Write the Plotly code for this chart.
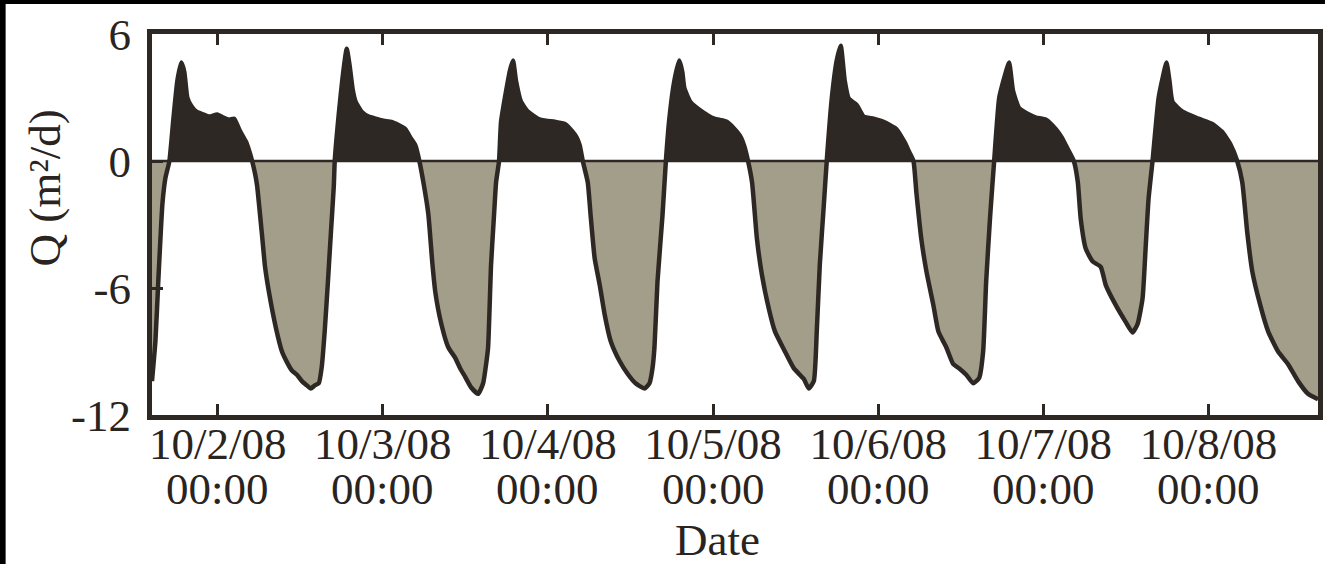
import pandas as pd
import plotly.graph_objects as go

# Hours since 2008-10-02 00:00 and flux Q (m2/d)
hours = [
    -9.55, -9.05, -8.61, -8.03, -7.60, -7.02, -6.44, -5.86, -5.28, -4.85, -4.42, -3.84, -3.11, -2.10,
    -1.23, -0.07, 0.80, 1.66, 2.39, 3.11, 3.69, 4.13, 4.56, 5.00,
    5.43, 5.72, 6.44, 6.88, 7.45, 8.47, 9.34, 10.06, 10.78, 11.51, 12.23, 12.96, 13.53, 14.11,
    14.69, 15.13, 15.56, 16.00, 16.43, 16.87, 17.01,
    17.59, 18.17, 18.75, 19.18, 19.61, 20.05, 20.92, 21.93, 22.94, 24.10, 25.26, 26.27, 27.29,
    28.01, 28.73, 29.31,
    29.89, 30.61, 31.19, 31.63, 32.50, 33.51, 34.52, 35.25, 35.97, 36.84, 37.85, 38.58, 39.01,
    39.30, 39.73, 40.17, 40.46, 40.89,
    41.18, 41.91, 42.49, 42.92, 43.35, 44.08, 45.09, 46.54, 47.70, 49.00, 50.45, 51.61, 52.19,
    52.62, 53.06,
    53.78, 54.21, 54.79, 55.52, 56.24, 57.11, 58.41, 59.57, 60.73, 62.04, 62.76, 63.19, 63.48,
    63.92, 64.64, 65.14,
    65.64, 66.37, 67.09, 67.53, 67.82, 68.69, 70.13, 72.16, 74.04, 75.49, 76.07, 76.50, 77.08,
    77.66, 78.38, 79.11, 80.12, 80.99, 82.44, 83.74, 85.19, 85.91, 86.64, 87.07, 87.51, 88.09,
    88.52,
    89.25, 89.97, 90.55, 91.13, 91.71, 92.87, 93.88, 95.33, 96.77, 98.66, 99.81, 100.54, 101.12,
    101.55, 102.27, 103.00, 104.01, 104.74, 105.89, 106.91, 107.78, 108.79, 109.81, 110.67,
    111.25, 111.69, 112.27, 112.85,
    113.57, 114.29, 115.02, 115.60, 116.47, 117.92, 118.93, 120.38, 121.82, 122.69, 123.27,
    124.43,
    125.01, 125.44, 126.17, 127.18, 128.34, 129.06, 130.51, 131.96, 132.97, 133.70, 134.42,
    134.86, 135.29, 135.87,
    136.74, 137.32, 137.90, 138.33, 138.77, 140.22, 142.53, 144.56, 146.01, 146.59, 147.17,
    148.18,
    148.91, 149.63, 150.36, 151.52, 152.67, 154.12, 155.57, 157.02, 158.47, 159.92,
]
q = [
    -10.4, -8.5, -5.5, -2.0, -0.8, 0.0, 2.0, 3.8, 4.65, 4.2, 3.0, 2.6, 2.33, 2.2,
    2.1, 2.2, 2.05, 1.95, 2.0, 1.5, 1.15, 0.9, 0.5, 0.0,
    -0.6, -1.15, -3.5, -5.0, -6.2, -7.9, -9.0, -9.5, -9.9, -10.1, -10.4, -10.6, -10.75, -10.6,
    -10.5, -9.7, -8.0, -5.8, -3.5, -1.2, 0.0,
    2.2, 4.0, 5.3, 4.5, 3.4, 2.8, 2.33, 2.1, 2.0, 1.9, 1.85, 1.7, 1.5,
    1.1, 0.74, 0.0,
    -1.0, -2.5, -4.8, -6.2, -7.7, -8.8, -9.3, -9.8, -10.2, -10.7, -11.0, -10.5, -9.6,
    -8.8, -4.9, -2.5, -1.0, 0.0,
    1.85, 3.3, 4.3, 4.75, 3.8, 2.8, 2.33, 2.0, 1.9, 1.85, 1.75, 1.37, 1.1,
    0.74, 0.0,
    -1.0, -2.6, -4.6, -5.85, -7.25, -8.5, -9.45, -10.05, -10.5, -10.75, -10.5, -9.8, -8.8,
    -5.7, -2.6, 0.0,
    2.0, 3.8, 4.75, 4.2, 3.45, 2.8, 2.4, 2.0, 1.85, 1.37, 1.1, 0.74, 0.0,
    -1.0, -3.7, -5.4, -7.0, -8.05, -9.0, -9.8, -10.3, -10.75, -10.4, -8.05, -4.9, -2.1,
    0.0,
    2.95, 4.75, 5.45, 3.8, 2.95, 2.65, 2.1, 2.0, 1.85, 1.5, 0.9, 0.4, 0.0,
    -1.5, -3.7, -5.2, -6.8, -8.05, -8.8, -9.6, -9.8, -10.1, -10.5, -10.25,
    -9.0, -5.7, -2.6, 0.0,
    2.95, 3.9, 4.65, 3.3, 2.5, 2.2, 2.05, 1.95, 1.5, 1.1, 0.74,
    0.0,
    -1.0, -2.75, -4.15, -4.75, -5.0, -5.85, -6.8, -7.6, -8.1, -7.7, -6.5,
    -4.15, -1.8, 0.0,
    2.95, 3.9, 4.65, 3.8, 2.8, 2.33, 2.0, 1.75, 1.37, 1.1, 0.8,
    0.0,
    -1.0, -3.35, -5.2, -6.8, -8.05, -9.0, -9.6, -10.4, -11.0, -11.25,
]

tick_dates = ["2008-10-02", "2008-10-03", "2008-10-04", "2008-10-05",
              "2008-10-06", "2008-10-07", "2008-10-08"]
tick_top = ["10/2/08", "10/3/08", "10/4/08", "10/5/08", "10/6/08", "10/7/08", "10/8/08"]
tick_bottom = ["00:00"] * 7
y_ticks = [-12, -6, 0, 6]
y_labels = ["-12", "-6", "0", "6"]
x_range_hours = [-9.55, 159.92]

base = pd.Timestamp("2008-10-02 00:00")
t = base + pd.to_timedelta(hours, unit="h")
pos = [max(v, 0) for v in q]
neg = [min(v, 0) for v in q]

DARK = "#2e2825"
GRAY = "#a39e8a"
TXT = "#2a2421"
FONT = "Liberation Serif"
SM = 0.5

fig = go.Figure()
fig.add_trace(go.Scatter(x=t, y=neg, mode="lines",
                         line=dict(width=0, color=GRAY, shape="spline", smoothing=SM),
                         fill="tozeroy", fillcolor=GRAY, hoverinfo="skip"))
fig.add_trace(go.Scatter(x=t, y=pos, mode="lines",
                         line=dict(width=0, color=DARK, shape="spline", smoothing=SM),
                         fill="tozeroy", fillcolor=DARK, hoverinfo="skip"))
fig.add_trace(go.Scatter(x=t, y=q, mode="lines",
                         line=dict(width=4.5, color=DARK, shape="spline", smoothing=SM)))

W, H = 1325, 564
L, R, T, B = 152, 2, 34, 149
pw, ph = W - L - R, H - T - B

fig.add_shape(type="line", xref="paper", yref="y", x0=0, x1=1, y0=0, y1=0,
              line=dict(color=DARK, width=2.5), layer="above")
# dark frame strips at the top and left edge of the picture
fig.add_shape(type="rect", xref="paper", yref="paper",
              x0=-L / pw - 0.01, x1=(W - L + 5) / pw, y0=(H - B - 4) / ph, y1=(H - B + 5) / ph,
              fillcolor="black", line=dict(width=0), layer="above")
fig.add_shape(type="rect", xref="paper", yref="paper",
              x0=-L / pw - 0.01, x1=(5 - L) / pw, y0=-B / ph - 0.02, y1=(H - B + 5) / ph,
              fillcolor="black", line=dict(width=0), layer="above")

for d, txt in zip(tick_dates, tick_bottom):
    fig.add_annotation(x=d, xref="x", y=-(489 - (H - B)) / ph, yref="paper",
                       text=txt, showarrow=False, xanchor="center", yanchor="middle",
                       font=dict(family=FONT, size=45, color=TXT))

fig.add_annotation(x=(45 - L) / pw, xref="paper", y=(H - 188 - B) / ph, yref="paper",
                   text="Q (m²/d)", textangle=-90, showarrow=False,
                   xanchor="center", yanchor="middle",
                   font=dict(family=FONT, size=45, color=TXT))
fig.add_annotation(x=(720 - L) / pw, xref="paper", y=-(540 - (H - B)) / ph, yref="paper",
                   text="Date", showarrow=False, xanchor="center", yanchor="middle",
                   font=dict(family=FONT, size=45, color=TXT))

fig.update_layout(
    width=W, height=H,
    margin=dict(l=L, r=R, t=T, b=B, pad=0),
    paper_bgcolor="white", plot_bgcolor="white",
    showlegend=False,
    font=dict(family=FONT, size=45, color=TXT),
)
fig.update_xaxes(
    type="date",
    range=[base + pd.Timedelta(hours=x_range_hours[0]), base + pd.Timedelta(hours=x_range_hours[1])],
    tickvals=tick_dates, ticktext=tick_top,
    ticks="inside", ticklen=11, tickwidth=3, tickcolor=DARK,
    showline=True, linewidth=5, linecolor=DARK, mirror="ticks",
    showgrid=False, zeroline=False,
    tickfont=dict(family=FONT, size=45, color=TXT),
    ticklabelstandoff=-15,
)
fig.update_yaxes(
    range=[-12, 6], tickvals=y_ticks, ticktext=y_labels,
    ticks="inside", ticklen=11, tickwidth=3, tickcolor=DARK,
    showline=True, linewidth=5, linecolor=DARK, mirror=True,
    showgrid=False, zeroline=False,
    tickfont=dict(family=FONT, size=45, color=TXT),
    ticklabelstandoff=7,
)

fig.write_html("out.html", config={"displayModeBar": False},
               post_script="document.body.style.margin='0px';")
